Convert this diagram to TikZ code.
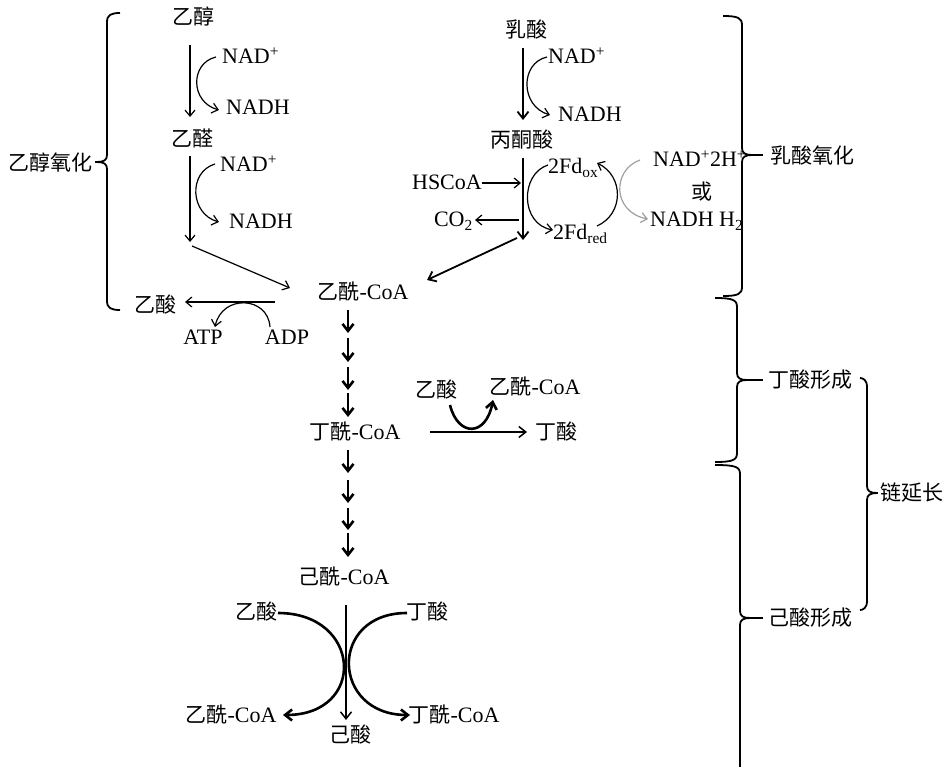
\documentclass[tikz,border=0pt]{standalone}
\usepackage{fontspec}
\setmainfont{Liberation Serif}
\newfontfamily\cjk{Noto Sans CJK SC}
\newcommand\zhs[1]{{\cjk\fontsize{21}{24}\selectfont #1}}
\usetikzlibrary{arrows.meta}
% #1 sign (1 tip right, -1 tip left), #2 end x, #3 vertical x, #4 tip x, #5 top y, #6 tip y, #7 bottom y
\newcommand\mybrace[7]{%
  \draw[brcline] (#2,#5) .. controls ({#3-4*(#1)},#5) and (#3,{#5+2}) .. (#3,{#5+9})
    -- (#3,{#6-7}) .. controls (#3,{#6-2}) and ({#3+3*(#1)},#6) .. ({#3+10*(#1)},#6)
    .. controls ({#3+3*(#1)},#6) and (#3,{#6+2}) .. (#3,{#6+7})
    -- (#3,{#7-9}) .. controls (#3,{#7-2}) and ({#3-4*(#1)},#7) .. (#2,#7);
  \draw[brcline] ({#3+10*(#1)},#6) -- (#4,#6);}
\begin{document}
\begin{tikzpicture}[x=1pt,y=-1pt,
  lbl/.style={inner sep=0pt, font=\fontsize{22}{26}\selectfont},
  thinarr/.style={line width=1.2pt, -{Straight Barb[length=6pt,width=10pt]}},
  medarr/.style={line width=1.8pt, -{Straight Barb[length=7pt,width=11pt]}},
  thickarr/.style={line width=2.6pt, -{Straight Barb[length=7pt,width=11pt]}},
  brcline/.style={line width=1.8pt, line join=round},
]
\useasboundingbox (0,0) rectangle (945,767);

% ---------- nodes ----------
\node[lbl] (eth) at (193,16) {\zhs{乙醇}};
\node[lbl,anchor=base west] (nad1) at (222,64) {NAD\textsuperscript{+}};
\node[lbl,anchor=base west] (nadh1) at (226,115) {NADH};
\node[lbl] (ald) at (192,138) {\zhs{乙醛}};
\node[lbl,anchor=base west] (nad2) at (220,172) {NAD\textsuperscript{+}};
\node[lbl,anchor=base west] (nadh2) at (229,229) {NADH};
\node[lbl] (acoa) at (363,292) {\zhs{乙酰}-CoA};
\node[lbl] (ac1) at (155,305) {\zhs{乙酸}};
\node[lbl] (atp) at (203,337) {ATP};
\node[lbl] (adp) at (287,337) {ADP};

\node[lbl] (lac) at (526,30) {\zhs{乳酸}};
\node[lbl,anchor=base west] (nad3) at (548,64) {NAD\textsuperscript{+}};
\node[lbl,anchor=base west] (nadh3) at (558,122) {NADH};
\node[lbl] (pyr) at (522,140) {\zhs{丙酮酸}};
\node[lbl,anchor=base east] (hscoa) at (482,190) {HSCoA};
\node[lbl,anchor=base east] (co2) at (473,227) {CO\textsubscript{2}};
\node[lbl,anchor=base west] (fdox) at (548,174) {2Fd\textsubscript{ox}};
\node[lbl,anchor=base west] (fdred) at (553,240) {2Fd\textsubscript{red}};
\node[lbl,anchor=base west] (nad4) at (653,167) {NAD\textsuperscript{+}2H\textsuperscript{+}};
\node[lbl] (huo) at (702,192) {\zhs{或}};
\node[lbl,anchor=base west] (nadh4) at (650,227) {NADH H\textsubscript{2}};

\node[lbl] (bcoa) at (355,432) {\zhs{丁酰}-CoA};
\node[lbl] (ac2) at (436,390) {\zhs{乙酸}};
\node[lbl] (acoa2) at (535,387) {\zhs{乙酰}-CoA};
\node[lbl] (but1) at (556,432) {\zhs{丁酸}};

\node[lbl] (hcoa) at (344,577) {\zhs{己酰}-CoA};
\node[lbl] (ac3) at (256,612) {\zhs{乙酸}};
\node[lbl] (but2) at (427,612) {\zhs{丁酸}};
\node[lbl] (hex) at (350,735) {\zhs{己酸}};
\node[lbl] (acoa3) at (231,715) {\zhs{乙酰}-CoA};
\node[lbl] (bcoa2) at (454,715) {\zhs{丁酰}-CoA};

\node[lbl] (l1) at (51,162) {\zhs{乙醇氧化}};
\node[lbl] (l2) at (812,156) {\zhs{乳酸氧化}};
\node[lbl] (l3) at (810,380) {\zhs{丁酸形成}};
\node[lbl] (l4) at (810,618) {\zhs{己酸形成}};
\node[lbl] (l5) at (912,493) {\zhs{链延长}};

% ---------- ethanol oxidation ----------
\draw[thinarr] (190,45) -- (190,117);
\draw[thinarr] (216,57) .. controls (190,63) and (190,102) .. (219,110);
\draw[thinarr] (190,156) -- (190,242);
\draw[thinarr] (215,164) .. controls (188,172) and (190,214) .. (219,222);
\draw[thinarr] (192,246) -- (290,288);
\draw[thinarr] (275,302) -- (185,302);
\draw[thinarr] (270,327) .. controls (268,296) and (222,294) .. (215,327);

% ---------- lactate oxidation ----------
\draw[medarr] (523,48) -- (523,120);
\draw[thinarr] (547,57) .. controls (520,63) and (520,106) .. (550,115);
\draw[medarr] (523,158) -- (523,240);
\draw[thinarr] (482,183) -- (521,183);
\draw[thinarr] (519,220) -- (475,220);
\draw[thinarr] (548,165) .. controls (520,174) and (520,224) .. (553,230);
\draw[thinarr] (597,226) .. controls (624,214) and (624,176) .. (597,163);
\draw[thinarr, draw=gray!75] (640,160) .. controls (612,170) and (612,212) .. (648,219);
\draw[medarr] (517,238) -- (427,280);

% ---------- chain elongation ----------
\foreach \a/\b in {310/333, 338/362, 367/390, 393/417, 450/473, 480/503, 508/530, 533/557}
  \draw[thickarr] (348,\a) -- (348,\b);
\draw[line width=1.5pt, -{Straight Barb[length=7pt,width=11pt]}] (430,432) -- (527,432);
\draw[thickarr] (450,405) .. controls (458,437) and (486,437) .. (493,400);

\draw[line width=1.5pt, -{Straight Barb[length=7pt,width=11pt]}] (346,605) -- (346,720);
\draw[thickarr] (278,613) .. controls (362,613) and (367,715) .. (283,715);
\draw[thickarr] (407,613) .. controls (328,613) and (331,715) .. (410,715);

% ---------- braces ----------
\mybrace{-1}{120}{107}{95}{13}{162}{310}
\mybrace{1}{723}{742}{763}{16}{155}{296}
\mybrace{1}{715}{737}{763}{298}{380}{462}
\mybrace{1}{715}{740}{763}{465}{618}{775}
\mybrace{1}{860}{867}{878}{378}{493}{610}
\end{tikzpicture}
\end{document}
